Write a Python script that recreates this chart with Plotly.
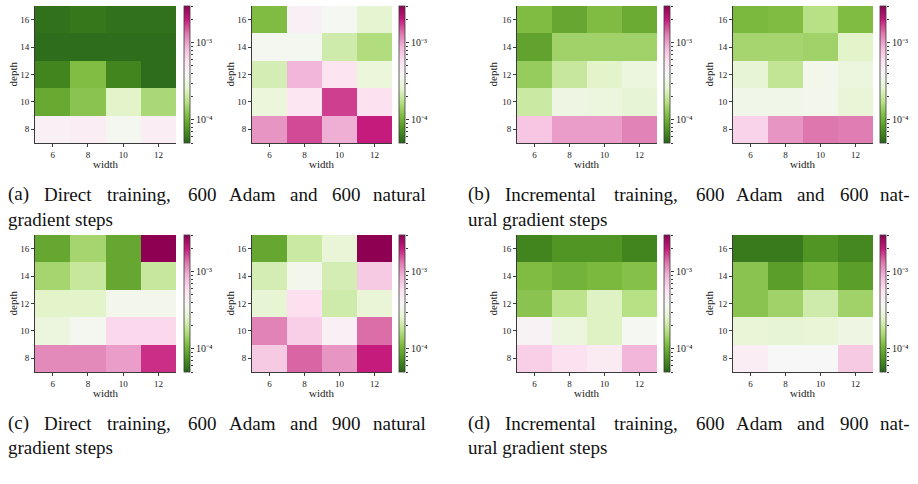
import numpy as np
import plotly.graph_objects as go

# ---------------- data ----------------
widths = [6, 8, 10, 12]
depths = [8, 10, 12, 14, 16]

# rows = depth 8,10,12,14,16 ; cols = width 6,8,10,12
direct_600_adam = [
    [4.4e-4, 4.6e-4, 3.6e-4, 4.6e-4],
    [9.4e-5, 1.23e-4, 2.5e-4, 1.55e-4],
    [6.7e-5, 1.15e-4, 6.7e-5, 5.4e-5],
    [5.4e-5, 5.4e-5, 5.4e-5, 5.4e-5],
    [5.6e-5, 5.9e-5, 5.6e-5, 5.6e-5],
]
direct_600_natgrad = [
    [1.08e-3, 1.62e-3, 9.2e-4, 2.0e-3],
    [2.9e-4, 5.2e-4, 1.7e-3, 5.6e-4],
    [2.2e-4, 8.8e-4, 5.4e-4, 2.9e-4],
    [3.6e-4, 3.6e-4, 2.1e-4, 1.64e-4],
    [1.13e-4, 4.4e-4, 3.7e-4, 2.6e-4],
]
incr_600_adam = [
    [7.5e-4, 1.03e-3, 1.03e-3, 1.22e-3],
    [2.0e-4, 3.15e-4, 3.0e-4, 2.7e-4],
    [1.34e-4, 1.93e-4, 2.5e-4, 3.0e-4],
    [8.9e-5, 1.45e-4, 1.45e-4, 1.45e-4],
    [1.13e-4, 9.2e-5, 1.13e-4, 9.6e-5],
]
incr_600_natgrad = [
    [6.6e-4, 1.08e-3, 1.32e-3, 1.27e-3],
    [3.3e-4, 3.3e-4, 3.4e-4, 2.8e-4],
    [2.7e-4, 1.85e-4, 3.4e-4, 3.0e-4],
    [1.5e-4, 1.5e-4, 1.45e-4, 2.5e-4],
    [1.09e-4, 1.13e-4, 1.7e-4, 1.13e-4],
]
direct_900_adam = [
    [1.17e-3, 1.17e-3, 1.03e-3, 1.83e-3],
    [3.0e-4, 3.6e-4, 6.3e-4, 6.3e-4],
    [2.5e-4, 2.5e-4, 3.4e-4, 3.4e-4],
    [1.5e-4, 1.93e-4, 9.2e-5, 1.93e-4],
    [9.2e-5, 1.5e-4, 9.2e-5, 3.5e-3],
]
direct_900_natgrad = [
    [7.2e-4, 1.43e-3, 1.08e-3, 2.0e-3],
    [1.22e-3, 6.9e-4, 4.4e-4, 1.38e-3],
    [2.7e-4, 5.8e-4, 2.1e-4, 2.8e-4],
    [2.2e-4, 3.4e-4, 2.2e-4, 7.2e-4],
    [9.2e-5, 2.0e-4, 2.8e-4, 3.5e-3],
]
incr_900_adam = [
    [6.9e-4, 5.6e-4, 4.8e-4, 8.8e-4],
    [4.2e-4, 3.0e-4, 2.4e-4, 3.7e-4],
    [1.23e-4, 1.78e-4, 2.4e-4, 1.7e-4],
    [1.13e-4, 1.04e-4, 1.09e-4, 1.18e-4],
    [6.7e-5, 7.8e-5, 7.8e-5, 6.7e-5],
]
incr_900_natgrad = [
    [4.6e-4, 3.9e-4, 3.9e-4, 7.2e-4],
    [2.8e-4, 2.7e-4, 2.8e-4, 3.15e-4],
    [1.23e-4, 1.45e-4, 2.1e-4, 1.45e-4],
    [1.23e-4, 8.5e-5, 1.09e-4, 8.5e-5],
    [6.1e-5, 6.1e-5, 7.8e-5, 6.9e-5],
]

color_min, color_max = 5e-5, 3e-3
colorbar_major = [1e-4, 1e-3]
colorbar_labels = ["10\u207b\u2074", "10\u207b\u00b3"]

captions = [
    ["(a)", "Direct", "training,", "600", "Adam", "and", "600", "natural"],
    ["(b)", "Incremental", "training,", "600", "Adam", "and", "600", "nat-"],
    ["(c)", "Direct", "training,", "600", "Adam", "and", "900", "natural"],
    ["(d)", "Incremental", "training,", "600", "Adam", "and", "900", "nat-"],
]
caption_tails = ["gradient steps", "ural gradient steps",
                 "gradient steps", "ural gradient steps"]

# ---------------- layout geometry (pixels) ----------------
W, H = 918, 484
col_px = [(35, 176), (252, 392), (517, 657), (733, 873)]
cb_px = [184, 399, 664, 880]
CB_W = 6
depth_lbl_px = [12, 229, 492, 708]
row_px = [(6, 143), (235, 372)]
width_lbl_py = [164, 393]
cap_py = [(194, 219), (423, 447)]
left_word_x = [7, 43, 106, 187, 227.5, 289, 331, 371.5]
right_word_x = [467, 504, 613, 695, 735, 796, 839, 879]

grids = [direct_600_adam, direct_600_natgrad, incr_600_adam, incr_600_natgrad,
         direct_900_adam, direct_900_natgrad, incr_900_adam, incr_900_natgrad]

SERIF = "Liberation Serif"
AX = "#3a3a3a"
TXT = "#222"
lo, hi = np.log10(color_min), np.log10(color_max)

major_vals = [float(np.log10(v)) for v in colorbar_major]
minor_vals = []
for e in (-5, -4, -3):
    for k in range(2, 10):
        v = np.log10(k) + e
        if lo <= v <= hi:
            minor_vals.append(float(v))


def ax_name(prefix, n):
    return prefix if n == 1 else f"{prefix}{n}"


fig = go.Figure()
annotations = []
layout_axes = {}
for i, grid in enumerate(grids):
    r, c = divmod(i, 4)
    x0, x1 = col_px[c]
    y0, y1 = row_px[r]
    n = i + 1
    xa, ya = ax_name("x", n), ax_name("y", n)
    z = np.log10(np.array(grid))
    fig.add_trace(go.Heatmap(
        x=widths, y=depths, z=z, xaxis=xa, yaxis=ya,
        colorscale="PiYG_r", zmin=lo, zmax=hi, zsmooth=False,
        hoverinfo="skip",
        colorbar=dict(
            x=cb_px[c] / W, xanchor="left", xpad=0, ypad=0,
            y=1 - (y0 + y1) / 2 / H, yanchor="middle",
            len=y1 - y0, lenmode="pixels",
            thickness=CB_W, thicknessmode="pixels",
            outlinewidth=0.8, outlinecolor=AX,
            ticks="", showticklabels=False,
        ),
    ))
    axcommon = dict(showline=True, linecolor=AX, linewidth=0.8, ticks="outside",
                    ticklen=3, tickwidth=0.8, tickcolor=AX, showgrid=False,
                    zeroline=False, mirror=False,
                    tickfont=dict(family=SERIF, size=9, color=TXT))
    layout_axes[ax_name("xaxis", n)] = dict(
        domain=[x0 / W, x1 / W], anchor=ya, range=[5, 13],
        tickvals=widths, **axcommon)
    layout_axes[ax_name("yaxis", n)] = dict(
        domain=[1 - y1 / H, 1 - y0 / H], anchor=xa, range=[7, 17],
        tickvals=depths, **axcommon)

    # colorbar tick axis (major + minor log ticks)
    m = n + 8
    cxa, cya = ax_name("x", m), ax_name("y", m)
    fig.add_trace(go.Scatter(x=[], y=[], xaxis=cxa, yaxis=cya,
                             showlegend=False, hoverinfo="skip"))
    layout_axes[ax_name("xaxis", m)] = dict(
        domain=[cb_px[c] / W, (cb_px[c] + CB_W) / W], anchor=cya,
        visible=False, range=[0, 1])
    layout_axes[ax_name("yaxis", m)] = dict(
        domain=[1 - y1 / H, 1 - y0 / H], anchor=cxa, side="right",
        range=[lo, hi], showline=False, showgrid=False, zeroline=False,
        tickmode="array", tickvals=major_vals, ticktext=colorbar_labels,
        ticks="outside", ticklen=3, tickwidth=0.8, tickcolor=AX,
        tickfont=dict(family=SERIF, size=10, color=TXT),
        minor=dict(tickmode="array", tickvals=minor_vals, ticks="outside",
                   ticklen=1.8, tickwidth=0.6, tickcolor=AX, showgrid=False))

    annotations.append(dict(
        text="width", x=(x0 + x1) / 2 / W, y=1 - width_lbl_py[r] / H,
        xref="paper", yref="paper", showarrow=False, xanchor="center",
        yanchor="middle", font=dict(family=SERIF, size=11, color=TXT)))
    annotations.append(dict(
        text="depth", x=depth_lbl_px[c] / W, y=1 - (y0 + y1) / 2 / H,
        xref="paper", yref="paper", showarrow=False, textangle=-90,
        xanchor="center", yanchor="middle",
        font=dict(family=SERIF, size=11, color=TXT)))

# captions
for k, words in enumerate(captions):
    r, side = divmod(k, 2)
    xs = left_word_x if side == 0 else right_word_x
    l1, l2 = cap_py[r]
    for w, xw in zip(words, xs):
        annotations.append(dict(
            text=w, x=xw / W, y=1 - l1 / H, xref="paper", yref="paper",
            showarrow=False, xanchor="left", yanchor="middle", borderpad=0,
            font=dict(family=SERIF, size=19, color="#111")))
    annotations.append(dict(
        text=caption_tails[k], x=xs[0] / W, y=1 - l2 / H, xref="paper",
        yref="paper", showarrow=False, xanchor="left", yanchor="middle",
        borderpad=0, font=dict(family=SERIF, size=19, color="#111")))

fig.update_layout(
    width=W, height=H, margin=dict(l=0, r=0, t=0, b=0),
    paper_bgcolor="white", plot_bgcolor="white",
    showlegend=False, annotations=annotations, **layout_axes)

fig.write_html("out.html")
